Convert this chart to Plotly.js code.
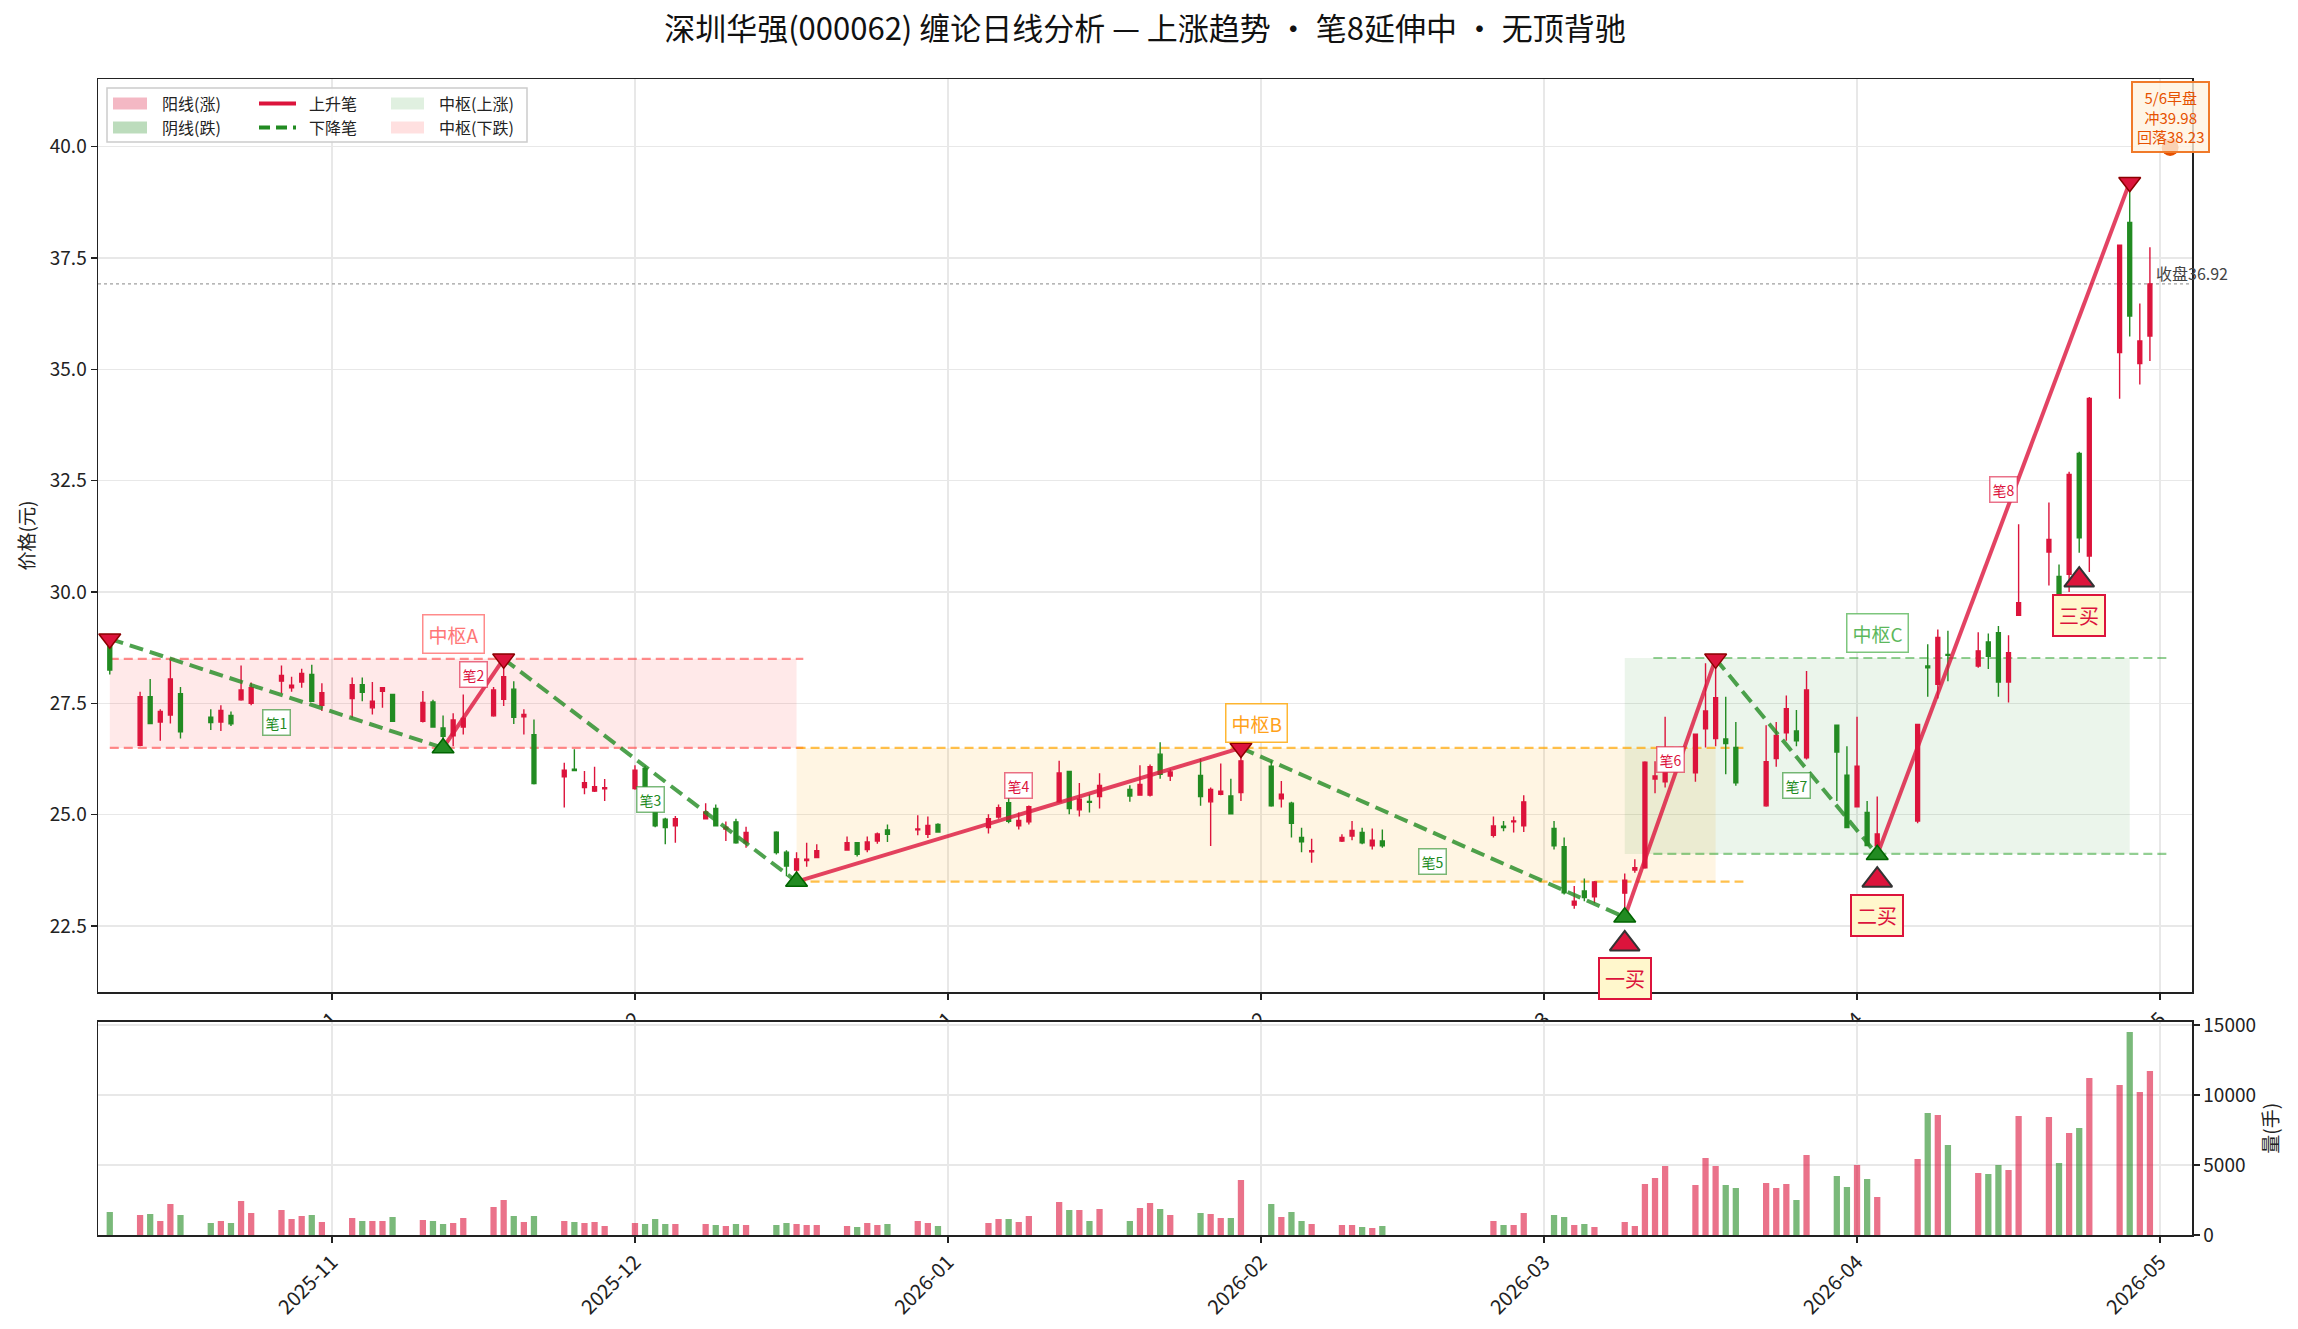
<!DOCTYPE html>
<html><head><meta charset="utf-8">
<script src="https://cdn.plot.ly/plotly-3.0.1.min.js"></script>
<style>html,body{margin:0;padding:0;background:#fff}#chart{width:2298px;height:1329px}</style>
</head><body><div id="chart"></div>
<script>
// ---------------- data ----------------
const dates = [
 '2025-10-10','2025-10-13','2025-10-14','2025-10-15','2025-10-16','2025-10-17',
 '2025-10-20','2025-10-21','2025-10-22','2025-10-23','2025-10-24',
 '2025-10-27','2025-10-28','2025-10-29','2025-10-30','2025-10-31',
 '2025-11-03','2025-11-04','2025-11-05','2025-11-06','2025-11-07',
 '2025-11-10','2025-11-11','2025-11-12','2025-11-13','2025-11-14',
 '2025-11-17','2025-11-18','2025-11-19','2025-11-20','2025-11-21',
 '2025-11-24','2025-11-25','2025-11-26','2025-11-27','2025-11-28',
 '2025-12-01','2025-12-02','2025-12-03','2025-12-04','2025-12-05',
 '2025-12-08','2025-12-09','2025-12-10','2025-12-11','2025-12-12',
 '2025-12-15','2025-12-16','2025-12-17','2025-12-18','2025-12-19',
 '2025-12-22','2025-12-23','2025-12-24','2025-12-25','2025-12-26',
 '2025-12-29','2025-12-30','2025-12-31',
 '2026-01-05','2026-01-06','2026-01-07','2026-01-08','2026-01-09',
 '2026-01-12','2026-01-13','2026-01-14','2026-01-15','2026-01-16',
 '2026-01-19','2026-01-20','2026-01-21','2026-01-22','2026-01-23',
 '2026-01-26','2026-01-27','2026-01-28','2026-01-29','2026-01-30',
 '2026-02-02','2026-02-03','2026-02-04','2026-02-05','2026-02-06',
 '2026-02-09','2026-02-10','2026-02-11','2026-02-12','2026-02-13',
 '2026-02-24','2026-02-25','2026-02-26','2026-02-27',
 '2026-03-02','2026-03-03','2026-03-04','2026-03-05','2026-03-06',
 '2026-03-09','2026-03-10','2026-03-11','2026-03-12','2026-03-13',
 '2026-03-16','2026-03-17','2026-03-18','2026-03-19','2026-03-20',
 '2026-03-23','2026-03-24','2026-03-25','2026-03-26','2026-03-27',
 '2026-03-30','2026-03-31',
 '2026-04-01','2026-04-02','2026-04-03',
 '2026-04-07','2026-04-08','2026-04-09','2026-04-10',
 '2026-04-13','2026-04-14','2026-04-15','2026-04-16','2026-04-17',
 '2026-04-20','2026-04-21','2026-04-22','2026-04-23','2026-04-24',
 '2026-04-27','2026-04-28','2026-04-29','2026-04-30'
];
const opens = [
 28.85,26.56,27.65,27.08,27.24,27.72, 27.19,27.08,27.23,27.58,27.50, 28.00,27.85,27.98,28.15,27.46,
 27.61,27.92,27.40,27.77,27.70, 27.10,27.53,26.95,26.77,26.97, 27.22,27.59,27.82,27.20,26.80, 25.85,26.02,25.61,25.53,25.58,
 25.59,26.04,25.53,24.90,24.75, 24.91,25.14,24.68,24.84,24.37, 24.61,24.16,23.76,23.97,24.04, 24.21,24.37,24.22,24.41,24.66, 24.66,24.56,24.78,
 24.71,24.95,25.27,24.75,24.84, 25.29,25.97,25.11,25.30,25.41, 25.57,25.44,25.44,26.36,25.87, 25.88,25.29,25.46,25.42,25.50,
 26.09,25.36,25.26,24.49,24.17, 24.41,24.52,24.60,24.30,24.41, 24.54,24.74,24.84,24.75,
 24.69,24.28,22.97,23.29,23.16, 23.24,23.76,23.81,25.80,25.74, 25.94,26.93,26.71,26.70,26.51, 25.20,26.26,26.84,26.88,26.28, 27.01,25.89,
 25.18,25.05,24.30, 24.86,28.34,27.93,28.60, 28.34,28.88,29.09,27.98,29.48, 30.90,30.35,30.40,33.11,30.81, 35.38,38.30,35.13,35.75
];
const highs = [
 28.95,27.76,28.05,27.37,28.47,27.87, 27.37,27.46,27.32,28.35,27.97, 28.35,28.10,28.28,28.37,27.95,
 28.08,28.08,27.98,27.87,27.71, 27.78,27.58,27.23,27.28,27.70, 27.87,28.50,28.00,27.37,27.14, 26.17,26.47,25.98,26.08,25.80,
 26.11,26.10,25.56,24.93,24.97, 25.26,25.23,24.85,24.91,24.73, 24.63,24.20,24.16,24.37,24.34, 24.51,24.39,24.51,24.60,24.78, 24.99,24.96,24.81,
 25.01,25.23,25.38,25.05,25.21, 26.21,25.98,25.71,25.46,25.93, 25.66,26.11,26.13,26.63,26.02, 26.26,25.61,26.15,25.81,26.50,
 26.21,25.76,25.29,24.71,24.46, 24.56,24.86,24.71,24.69,24.67, 24.96,24.86,24.96,25.44,
 24.86,24.49,23.40,23.57,23.51, 23.68,24.00,26.20,26.20,27.20, 26.82,28.40,28.50,27.65,27.08, 27.01,27.08,27.68,27.35,28.23, 27.02,26.54,
 27.20,25.31,25.41, 27.04,28.83,29.16,29.13, 29.10,29.07,29.24,29.03,31.52, 32.01,30.62,32.70,33.15,34.38, 37.80,39.20,36.48,37.74
];
const lows = [
 28.15,26.54,27.03,26.66,27.05,26.71, 26.90,26.88,26.99,27.56,27.46, 27.73,27.76,27.85,27.54,27.33,
 27.18,27.55,27.25,27.40,27.09, 27.07,26.96,26.50,26.54,26.80, 27.20,27.44,27.04,26.80,25.68, 25.16,25.98,25.46,25.51,25.31,
 25.56,25.50,24.72,24.34,24.37, 24.90,24.74,24.41,24.35,24.26, 24.11,23.62,23.50,23.83,24.03, 24.20,24.06,24.16,24.35,24.39, 24.54,24.48,24.60,
 24.58,24.91,24.81,24.67,24.78, 25.27,25.01,24.96,25.05,25.14, 25.29,25.43,25.41,25.81,25.76, 25.20,24.30,25.44,25.01,25.31,
 25.18,25.16,24.49,24.16,23.92, 24.39,24.43,24.34,24.22,24.26, 24.49,24.63,24.60,24.61,
 24.22,23.21,22.89,23.06,23.01, 22.70,23.70,23.79,25.48,25.61, 25.74,26.51,26.54,25.91,25.65, 25.18,26.08,26.66,26.54,26.24, 25.31,24.70,
 25.17,24.30,24.10, 24.81,27.65,27.61,28.00, 28.30,28.27,27.65,27.52,29.46, 30.15,29.80,30.00,30.88,30.45, 34.34,35.74,34.66,35.19
];
const closes = [
 28.25,27.65,27.05,27.32,28.05,26.86, 27.07,27.34,27.04,27.80,27.85, 28.13,27.91,28.17,27.55,27.74,
 27.92,27.75,27.55,27.85,27.10, 27.52,26.97,26.76,27.13,27.16, 27.80,28.10,27.19,27.25,25.70, 26.00,25.99,25.72,25.63,25.61,
 26.00,25.53,24.75,24.71,24.91, 25.06,24.75,24.72,24.37,24.60, 24.15,23.85,24.01,24.00,24.19, 24.37,24.11,24.39,24.57,24.56, 24.68,24.76,24.61,
 24.91,25.16,24.85,24.87,25.18, 25.94,25.14,25.35,25.28,25.66, 25.42,25.68,26.08,25.91,25.96, 25.41,25.57,25.53,25.02,26.21,
 25.20,25.46,24.81,24.39,24.19, 24.49,24.65,24.37,24.43,24.30, 24.75,24.71,24.86,25.29,
 24.30,23.25,23.06,23.14,23.49, 23.53,23.81,26.18,25.87,26.09, 26.81,27.33,27.63,26.60,25.72, 26.19,26.78,27.38,26.66,27.80, 26.41,24.71,
 26.09,24.31,24.57, 27.03,28.30,28.98,28.58, 28.68,28.56,27.98,28.64,29.76, 31.18,29.95,32.64,31.22,34.35, 37.79,36.20,35.64,36.92
];
const volumes = [
 1640,1430,1500,1000,2210,1430, 860,1000,860,2430,1570, 1790,1140,1360,1430,930,
 1210,1000,1000,1000,1290, 1070,1000,790,860,1210, 2000,2500,1360,930,1360, 1000,930,860,930,640,
 860,790,1140,790,790, 790,710,640,790,710, 710,860,790,710,710, 640,570,860,710,790, 1000,860,640,
 860,1140,1140,930,1360, 2360,1790,1790,1000,1860, 1000,1930,2290,1860,1430, 1570,1500,1210,1210,3930,
 2210,1290,1640,1000,790, 710,710,570,500,640, 1000,710,710,1570,
 1430,1290,710,790,570, 930,640,3640,4070,4930, 3570,5500,4930,3570,3360, 3710,3360,3640,2500,5710, 4210,3430,
 5000,4000,2710, 5430,8710,8570,6430, 4430,4360,5000,4640,8500, 8430,5140,7290,7640,11210, 10710,14500,10210,11710
];

// 笔 (strokes): turning points
const biDates  = ['2025-10-10','2025-11-12','2025-11-18','2025-12-17','2026-01-30','2026-03-09','2026-03-18','2026-04-03','2026-04-28'];
const biPrices = [28.95, 26.5, 28.5, 23.5, 26.5, 22.7, 28.5, 24.1, 39.2];

// 中枢 (pivot zones)
const zsNames     = ['中枢A','中枢B','中枢C'];
const zsStart     = ['2025-10-10','2025-12-17','2026-03-09'];
const zsEnd       = ['2025-12-17','2026-03-18','2026-04-28'];
const zsLineStart = ['2025-10-10','2025-12-17','2026-03-11 20:00'];
const zsLineEnd   = ['2025-12-17 16:00','2026-03-20 18:00','2026-05-02'];
const zsUpper     = [28.5, 26.5, 28.52];
const zsLower     = [26.5, 23.5, 24.12];

// buy points
const buyDates  = ['2026-03-09','2026-04-03','2026-04-23'];
const buyPrices = [22.1, 23.53, 30.27];
const buyLabels = ['一买','二买','三买'];

// early-session note
const noteDate  = '2026-05-02';
const notePrice = 39.98;
const noteLines = ['5/6早盘','冲39.98','回落38.23'];

const titleText = '深圳华强(000062) 缠论日线分析 — 上涨趋势 · 笔8延伸中 · 无顶背驰';

// ---------------- styles / geometry ----------------
const FONT = '"Noto Sans CJK SC", "Noto Sans", sans-serif';
const UP = '#dc143c', DN = '#228b22';
const GRID = '#e8e8e8';
const W = 2298, H = 1329, L = 98, R = 2192, T = 79, B = 1235;
const px = x => (x - L) / (R - L);
const py = y => (B - y) / (B - T);
const xRange = ['2025-10-08 20:00', '2026-05-04 04:00'];
const volTop = 15238;
const zsStyle = [
  {fill:'rgba(255,0,0,0.085)',  line:'rgba(255,80,80,0.65)', text:'#ff7676', border:'rgba(255,110,110,0.8)'},
  {fill:'rgba(255,165,0,0.11)', line:'rgba(255,165,0,0.7)',  text:'#ffa21a', border:'rgba(255,165,0,0.8)'},
  {fill:'rgba(0,128,0,0.08)',   line:'rgba(40,160,40,0.5)',  text:'#5cb85c', border:'rgba(92,184,92,0.8)'}
];

const toMs = s => { const [d,t] = s.split(' '); const [y,m,dd] = d.split('-').map(Number);
  const [hh,mm] = t ? t.split(':').map(Number) : [0,0]; return Date.UTC(y,m-1,dd,hh,mm); };
const fromMs = ms => new Date(ms).toISOString().slice(0,19).replace('T',' ');
const DAY = 86400000;

// ---------------- traces ----------------
const traces = [];
traces.push({
  type:'candlestick', x:dates, open:opens, high:highs, low:lows, close:closes,
  xaxis:'x', yaxis:'y', whiskerwidth:0, hoverinfo:'skip', showlegend:false,
  increasing:{line:{color:UP, width:1.4}, fillcolor:UP},
  decreasing:{line:{color:DN, width:1.4}, fillcolor:DN}
});
traces.push({
  type:'bar', x:dates, y:volumes, xaxis:'x2', yaxis:'y2', width:0.62*DAY,
  marker:{color: closes.map((c,i)=> c>=opens[i] ? 'rgba(220,20,60,0.6)' : 'rgba(34,139,34,0.6)'), line:{width:0}},
  hoverinfo:'skip', showlegend:false
});
// strokes
const upX=[], upY=[], dnX=[], dnY=[];
for (let i=0;i<biDates.length-1;i++){
  const up = biPrices[i+1] > biPrices[i];
  const X = up?upX:dnX, Y = up?upY:dnY;
  X.push(biDates[i], biDates[i+1], null); Y.push(biPrices[i], biPrices[i+1], null);
}
traces.push({type:'scatter', mode:'lines', x:dnX, y:dnY, xaxis:'x', yaxis:'y', connectgaps:false,
  line:{color:'rgba(34,139,34,0.8)', width:4, dash:'14px,7px'}, hoverinfo:'skip', showlegend:false});
traces.push({type:'scatter', mode:'lines', x:upX, y:upY, xaxis:'x', yaxis:'y', connectgaps:false,
  line:{color:'rgba(220,20,60,0.8)', width:4}, hoverinfo:'skip', showlegend:false});
// turning-point markers
const isTop = biPrices.map((p,i)=> i===0 ? p > biPrices[1] : p > biPrices[i-1]);
traces.push({type:'scatter', mode:'markers', xaxis:'x', yaxis:'y',
  x: biDates.filter((d,i)=>isTop[i]), y: biPrices.filter((p,i)=>isTop[i]),
  marker:{symbol:'triangle-down', size:19, color:UP, line:{color:'#8b0000', width:1.5}}, hoverinfo:'skip', showlegend:false});
traces.push({type:'scatter', mode:'markers', xaxis:'x', yaxis:'y',
  x: biDates.filter((d,i)=>!isTop[i]), y: biPrices.filter((p,i)=>!isTop[i]),
  marker:{symbol:'triangle-up', size:19, color:DN, line:{color:'#006400', width:1.5}}, hoverinfo:'skip', showlegend:false});
// buy points
traces.push({type:'scatter', mode:'markers', xaxis:'x', yaxis:'y', x:buyDates, y:buyPrices,
  marker:{symbol:'triangle-up', size:26, color:UP, line:{color:'#333', width:2}}, hoverinfo:'skip', showlegend:false});
// note dot
traces.push({type:'scatter', mode:'markers', xaxis:'x', yaxis:'y', x:[noteDate], y:[notePrice],
  marker:{symbol:'circle', size:17, color:'#e65100'}, hoverinfo:'skip', showlegend:false});

// ---------------- shapes ----------------
const shapes = [];
// cover so main-axis tick labels are hidden behind the volume panel
shapes.push({type:'rect', xref:'x2', yref:'y2', x0:xRange[0], x1:xRange[1], y0:0, y1:volTop,
  fillcolor:'#ffffff', line:{width:0}, layer:'below'});
zsNames.forEach((n,i)=>{
  shapes.push({type:'rect', xref:'x', yref:'y', x0:zsStart[i], x1:zsEnd[i], y0:zsLower[i], y1:zsUpper[i],
    fillcolor:zsStyle[i].fill, line:{width:0}, layer:'between'});
});
zsNames.forEach((n,i)=>{
  [zsUpper[i], zsLower[i]].forEach(v=>{
    shapes.push({type:'line', xref:'x', yref:'y', x0:zsLineStart[i], x1:zsLineEnd[i], y0:v, y1:v,
      line:{color:zsStyle[i].line, width:2.2, dash:'9px,5px'}, layer:'between'});
  });
});
const lastClose = closes[closes.length-1];
shapes.push({type:'line', xref:'x', yref:'y', x0:xRange[0], x1:xRange[1], y0:lastClose, y1:lastClose,
  line:{color:'#a0a0a0', width:1.3, dash:'dot'}, layer:'between'});

// manual legend
const lgY1 = 103.5, lgY2 = 127.5;
shapes.push({type:'rect', xref:'paper', yref:'paper', x0:px(107), x1:px(527), y0:py(142), y1:py(88),
  fillcolor:'rgba(255,255,255,0.85)', line:{color:'#cccccc', width:1.5}, layer:'above'});
const patch = (x0,x1,yc,col)=>shapes.push({type:'rect', xref:'paper', yref:'paper', x0:px(x0), x1:px(x1),
  y0:py(yc+6), y1:py(yc-6), fillcolor:col, line:{width:0}, layer:'above'});
patch(113,147,lgY1,'rgba(220,20,60,0.3)');
patch(113,147,lgY2,'rgba(34,139,34,0.3)');
patch(391,424,lgY1,'rgba(0,128,0,0.12)');
patch(391,424,lgY2,'rgba(255,0,0,0.12)');
shapes.push({type:'line', xref:'paper', yref:'paper', x0:px(259), x1:px(296), y0:py(lgY1), y1:py(lgY1),
  line:{color:UP, width:4}, layer:'above'});
shapes.push({type:'line', xref:'paper', yref:'paper', x0:px(259), x1:px(296), y0:py(lgY2), y1:py(lgY2),
  line:{color:DN, width:4, dash:'11px,6px'}, layer:'above'});

// ---------------- annotations ----------------
const ann = [];
for (let i=0;i<biDates.length-1;i++){
  const up = biPrices[i+1] > biPrices[i];
  const col = up ? UP : DN;
  ann.push({xref:'x', yref:'y', x: fromMs((toMs(biDates[i])+toMs(biDates[i+1]))/2),
    y:(biPrices[i]+biPrices[i+1])/2, yshift: up ? 29 : -29, text:'笔'+(i+1), showarrow:false,
    font:{size:14, color:col, family:FONT}, bgcolor:'#ffffff',
    bordercolor: up ? 'rgba(220,20,60,0.6)' : 'rgba(34,139,34,0.6)', borderwidth:1.5, borderpad:2});
}
zsNames.forEach((n,i)=>{
  ann.push({xref:'x', yref:'y', x: fromMs((toMs(zsStart[i])+toMs(zsEnd[i]))/2), y:zsUpper[i], yshift:25,
    text:n, showarrow:false, font:{size:19, color:zsStyle[i].text, family:FONT}, bgcolor:'#ffffff',
    bordercolor:zsStyle[i].border, borderwidth:1.5, borderpad:5});
});
buyLabels.forEach((t,i)=>{
  ann.push({xref:'x', yref:'y', x:buyDates[i], y:buyPrices[i], yshift:-35, text:t, showarrow:false,
    font:{size:20, color:UP, family:FONT}, bgcolor:'#fff7cc', bordercolor:UP, borderwidth:2, borderpad:5});
});
ann.push({xref:'x', yref:'y', x:noteDate, y:notePrice, yanchor:'bottom', yshift:-5, text:noteLines.join('<br>'),
  showarrow:false, align:'center', font:{size:15, color:'#e65100', family:FONT},
  bgcolor:'rgba(255,243,224,0.8)', bordercolor:'#f07a2a', borderwidth:2, borderpad:4});
ann.push({xref:'x', yref:'y', x: fromMs(toMs(dates[dates.length-1]) + 0.4*DAY), y:lastClose,
  xanchor:'left', yanchor:'bottom', yshift:-3, text:'收盘'+lastClose.toFixed(2), showarrow:false,
  font:{size:16, color:'#444', family:FONT}});
// legend texts
const lgText = (x,y,t)=>ann.push({xref:'paper', yref:'paper', x:px(x), y:py(y), xanchor:'left', yanchor:'middle',
  text:t, showarrow:false, font:{size:16, color:'#222', family:FONT}});
lgText(160,lgY1,'阳线(涨)'); lgText(160,lgY2,'阴线(跌)');
lgText(307,lgY1,'上升笔');   lgText(307,lgY2,'下降笔');
lgText(437,lgY1,'中枢(上涨)'); lgText(437,lgY2,'中枢(下跌)');

// ---------------- layout ----------------
const axBase = {showline:true, linecolor:'#222', linewidth:1.5, mirror:true, ticks:'outside', ticklen:6,
  tickwidth:1.5, tickcolor:'#222', showgrid:true, gridcolor:GRID, gridwidth:1.5, zeroline:false};
const layout = {
  width:W, height:H, margin:{l:L, r:W-R, t:T, b:H-B, pad:0},
  paper_bgcolor:'#ffffff', plot_bgcolor:'#ffffff', showlegend:false, hovermode:false, boxgap:0.45,
  font:{family:FONT, size:16, color:'#222'},
  title:{text:titleText, x:0.5, xref:'paper', xanchor:'center', y:1-29/H, yref:'container', yanchor:'middle',
    font:{size:31, color:'#111', family:FONT}},
  xaxis: Object.assign({}, axBase, {type:'date', anchor:'y', domain:[0,1], range:xRange, rangeslider:{visible:false},
    tick0:'2025-11-01', dtick:'M1', tickformat:'%Y-%m', tickangle:-45, showticklabels:true, tickfont:{size:20}}),
  yaxis: Object.assign({}, axBase, {anchor:'x', domain:[py(992),1], range:[21.02,41.52], tick0:0, dtick:2.5,
    tickformat:'.1f', tickfont:{size:19}, title:{text:'价格(元)', font:{size:19}, standoff:10}}),
  xaxis2: Object.assign({}, axBase, {type:'date', anchor:'y2', domain:[0,1], range:xRange, matches:'x',
    tick0:'2025-11-01', dtick:'M1', tickformat:'%Y-%m', tickangle:-45, tickfont:{size:20}}),
  yaxis2: Object.assign({}, axBase, {anchor:'x2', domain:[0,py(1021.7)], range:[0,volTop], side:'right',
    tickvals:[0,5000,10000,15000], tickformat:'d', tickfont:{size:19}, title:{text:'量(手)', font:{size:19}, standoff:8}}),
  shapes:shapes, annotations:ann
};

Plotly.newPlot('chart', traces, layout, {staticPlot:true, displayModeBar:false});
</script>
</body></html>
